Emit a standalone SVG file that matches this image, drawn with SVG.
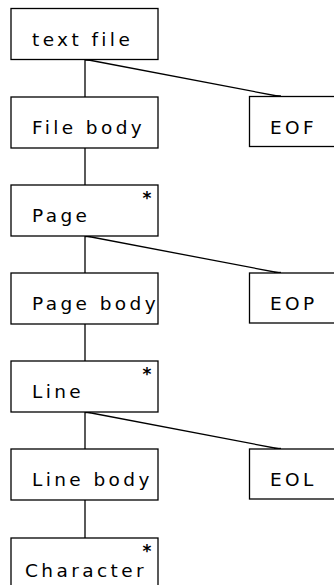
<svg xmlns="http://www.w3.org/2000/svg" width="334" height="585" viewBox="0 0 334 585">
<style>
.box{fill:#fff;stroke:#000;stroke-width:1.3}
.lbl{font-family:"DejaVu Sans",Verdana,sans-serif;font-size:18.5px;letter-spacing:3.4px;fill:#000}
.star{font-family:"DejaVu Sans",Verdana,sans-serif;font-size:17px;font-weight:bold;fill:#000;text-anchor:middle}
.conn line{stroke:#000;stroke-width:1.3}
.tick{stroke-width:2.4 !important}
</style>
<rect width="334" height="585" fill="#fff"/>
<g class="conn" id="connectors">
<line x1="85" y1="59" x2="85" y2="97"/>
<line x1="85" y1="148" x2="85" y2="185"/>
<line x1="85" y1="236" x2="85" y2="273"/>
<line x1="85" y1="324" x2="85" y2="361"/>
<line x1="85" y1="412" x2="85" y2="449"/>
<line x1="85" y1="500" x2="85" y2="538"/>
<line x1="86" y1="59.5" x2="280" y2="96.5"/>
<line x1="86" y1="236" x2="280" y2="273"/>
<line x1="86" y1="412" x2="280" y2="449"/>
<line class="tick" x1="85" y1="59.5" x2="91" y2="59.5"/>
<line class="tick" x1="274" y1="96.5" x2="281" y2="96.5"/>
<line class="tick" x1="85" y1="236" x2="91" y2="236"/>
<line class="tick" x1="274" y1="273" x2="281" y2="273"/>
<line class="tick" x1="85" y1="412" x2="91" y2="412"/>
<line class="tick" x1="274" y1="449" x2="281" y2="449"/>
</g>
<g id="textfile"><rect class="box" x="11" y="8.5" width="147" height="51"/><text class="lbl" x="32" y="45.5">text file</text></g>
<g id="filebody"><rect class="box" x="11" y="97" width="147" height="51"/><text class="lbl" x="32" y="134">File body</text></g>
<g id="eof"><rect class="box" x="249.5" y="96.5" width="100" height="50"/><text class="lbl" x="270" y="134">EOF</text></g>
<g id="page"><rect class="box" x="11" y="185" width="147" height="51"/><text class="star" x="147" y="204">*</text><text class="lbl" x="32" y="222">Page</text></g>
<g id="pagebody"><rect class="box" x="11" y="273" width="147" height="51"/><text class="lbl" x="32" y="310">Page body</text></g>
<g id="eop"><rect class="box" x="249.5" y="273" width="100" height="50"/><text class="lbl" x="270" y="310">EOP</text></g>
<g id="line"><rect class="box" x="11" y="361" width="147" height="51"/><text class="star" x="147" y="380">*</text><text class="lbl" x="32" y="398">Line</text></g>
<g id="linebody"><rect class="box" x="11" y="449" width="147" height="51"/><text class="lbl" x="32" y="486">Line body</text></g>
<g id="eol"><rect class="box" x="249.5" y="449" width="100" height="50"/><text class="lbl" x="270" y="486">EOL</text></g>
<g id="character"><rect class="box" x="11" y="538" width="147" height="51"/><text class="star" x="147" y="557">*</text><text class="lbl" x="25" y="577">Character</text></g>
</svg>
